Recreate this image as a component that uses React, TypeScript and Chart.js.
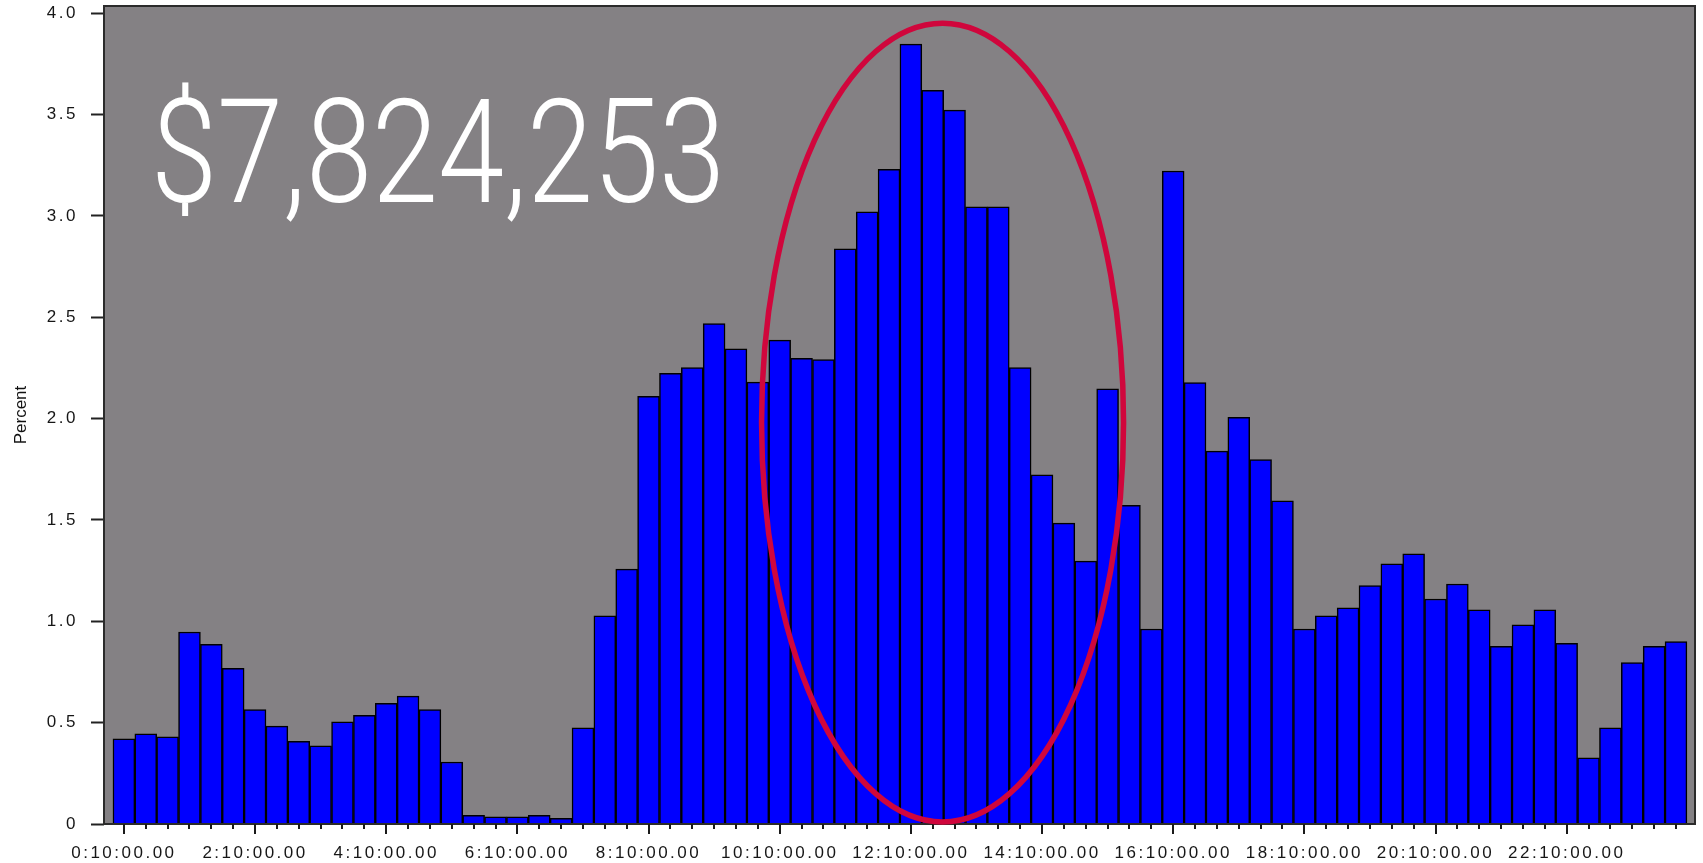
import { useEffect, useRef } from 'react';
import { Chart, registerables } from 'chart.js';

Chart.register(...registerables);

// 20-minute bins (bin centres)
const categories = [
  '0:10:00.00', '0:30:00.00', '0:50:00.00', '1:10:00.00', '1:30:00.00', '1:50:00.00',
  '2:10:00.00', '2:30:00.00', '2:50:00.00', '3:10:00.00', '3:30:00.00', '3:50:00.00',
  '4:10:00.00', '4:30:00.00', '4:50:00.00', '5:10:00.00', '5:30:00.00', '5:50:00.00',
  '6:10:00.00', '6:30:00.00', '6:50:00.00', '7:10:00.00', '7:30:00.00', '7:50:00.00',
  '8:10:00.00', '8:30:00.00', '8:50:00.00', '9:10:00.00', '9:30:00.00', '9:50:00.00',
  '10:10:00.00', '10:30:00.00', '10:50:00.00', '11:10:00.00', '11:30:00.00', '11:50:00.00',
  '12:10:00.00', '12:30:00.00', '12:50:00.00', '13:10:00.00', '13:30:00.00', '13:50:00.00',
  '14:10:00.00', '14:30:00.00', '14:50:00.00', '15:10:00.00', '15:30:00.00', '15:50:00.00',
  '16:10:00.00', '16:30:00.00', '16:50:00.00', '17:10:00.00', '17:30:00.00', '17:50:00.00',
  '18:10:00.00', '18:30:00.00', '18:50:00.00', '19:10:00.00', '19:30:00.00', '19:50:00.00',
  '20:10:00.00', '20:30:00.00', '20:50:00.00', '21:10:00.00', '21:30:00.00', '21:50:00.00',
  '22:10:00.00', '22:30:00.00', '22:50:00.00', '23:10:00.00', '23:30:00.00', '23:50:00.00',
];

const tickLabels = [
  '0:10:00.00', '2:10:00.00', '4:10:00.00', '6:10:00.00', '8:10:00.00', '10:10:00.00',
  '12:10:00.00', '14:10:00.00', '16:10:00.00', '18:10:00.00', '20:10:00.00', '22:10:00.00',
];

const percentValues = [
  0.42, 0.445, 0.43, 0.947, 0.886, 0.768, 0.564, 0.483, 0.408, 0.386, 0.504, 0.536,
  0.595, 0.631, 0.564, 0.306, 0.043, 0.035, 0.035, 0.043, 0.028, 0.475, 1.027, 1.257,
  2.11, 2.223, 2.252, 2.468, 2.344, 2.18, 2.387, 2.297, 2.291, 2.837, 3.02, 3.229,
  3.847, 3.619, 3.521, 3.044, 3.044, 2.252, 1.722, 1.484, 1.297, 2.147, 1.572, 0.962,
  3.221, 2.177, 1.839, 2.006, 1.797, 1.594, 0.962, 1.027, 1.066, 1.176, 1.283, 1.333,
  1.11, 1.184, 1.057, 0.877, 0.983, 1.057, 0.891, 0.327, 0.475, 0.796, 0.877, 0.9,
];

const yTickStep = 0.5;
const yMin = 0;
const yMax = 4.035;
const xMin = -0.91;
const xMax = 71.87;

const headline = '$7,824,253';
const yTitle = 'Percent';

// highlight ellipse, in data units (bin index / percent)
const highlightCenterBin = 37.45;
const highlightCenterValue = 1.98;
const highlightRadiusBins = 8.28;
const highlightRadiusValue = 1.97;

export default function App() {
  const canvasRef = useRef<HTMLCanvasElement | null>(null);

  useEffect(() => {
    const canvas = canvasRef.current;
    if (!canvas) return;

    const decorPlugin = {
      id: 'decor',
      beforeDraw(chart: any) {
        const { ctx, chartArea: a } = chart;
        ctx.letterSpacing = '0px';
        ctx.save();
        ctx.fillStyle = '#848184';
        ctx.fillRect(a.left, a.top, a.right - a.left, a.bottom - a.top);
        ctx.restore();
      },
      afterDatasetsDraw(chart: any) {
        const { ctx, chartArea: a, scales } = chart;
        const xs = scales.x;
        const ys = scales.y;
        ctx.save();
        ctx.letterSpacing = '0px';

        // plot frame
        ctx.strokeStyle = '#2b2b2b';
        ctx.lineWidth = 2;
        ctx.strokeRect(a.left, a.top, a.right - a.left, a.bottom - a.top);

        // x tick marks
        ctx.strokeStyle = '#1a1a1a';
        ctx.lineWidth = 2;
        categories.forEach((c, i) => {
          const px = Math.round(xs.getPixelForValue(i));
          const len = tickLabels.includes(c) ? 10 : 5;
          ctx.beginPath();
          ctx.moveTo(px, a.bottom);
          ctx.lineTo(px, a.bottom + len);
          ctx.stroke();
        });

        // highlight ellipse
        const cx = xs.getPixelForValue(highlightCenterBin);
        const bin = xs.getPixelForValue(1) - xs.getPixelForValue(0);
        const cy = ys.getPixelForValue(highlightCenterValue);
        const unit = ys.getPixelForValue(0) - ys.getPixelForValue(1);
        ctx.beginPath();
        ctx.ellipse(cx, cy, highlightRadiusBins * bin, highlightRadiusValue * unit, 0, 0, Math.PI * 2);
        ctx.strokeStyle = '#d0063c';
        ctx.lineWidth = 5.5;
        ctx.stroke();

        // headline figure
        ctx.font = '300 145px Roboto, "Open Sans", sans-serif';
        ctx.fillStyle = '#ffffff';
        ctx.textBaseline = 'alphabetic';
        ctx.textAlign = 'left';
        const w = ctx.measureText(headline).width;
        ctx.translate(a.left + 47, a.top + 196);
        ctx.scale(574 / w, 1);
        ctx.fillText(headline, 0, 0);
        ctx.restore();

        // wide tracking for the tick labels drawn after this point
        ctx.letterSpacing = '2.5px';
      },
      afterDraw(chart: any) {
        chart.ctx.letterSpacing = '0px';
      },
    };

    const tickFont = { family: '"Liberation Sans", Arial, sans-serif', size: 17 };

    const zeroPad = (s: any) => {
      s.paddingTop = 0;
      s.paddingBottom = 0;
      s.paddingLeft = 0;
      s.paddingRight = 0;
    };

    const chart = new Chart(canvas, {
      type: 'bar',
      data: {
        datasets: [
          {
            label: yTitle,
            data: percentValues.map((v, i) => ({ x: i, y: v })),
            backgroundColor: '#0000ff',
            borderColor: '#000000',
            borderWidth: 1.5,
            barPercentage: 1,
            categoryPercentage: 1,
          },
        ],
      },
      options: {
        animation: false,
        responsive: true,
        maintainAspectRatio: false,
        layout: { padding: { left: 0, top: 6, right: 8, bottom: 0 } },
        plugins: { legend: { display: false }, tooltip: { enabled: false } },
        scales: {
          x: {
            type: 'linear',
            min: xMin,
            max: xMax,
            offset: false,
            afterBuildTicks: (s: any) => {
              s.ticks = categories.map((_, i) => ({ value: i }));
            },
            afterFit: (s: any) => {
              s.height = 39;
              zeroPad(s);
            },
            grid: { display: false, drawTicks: false, drawOnChartArea: false },
            border: { display: false },
            ticks: {
              z: 1,
              autoSkip: false,
              maxRotation: 0,
              minRotation: 0,
              padding: 19,
              color: '#161616',
              font: tickFont,
              callback: (v: any) => {
                const c = categories[v as number];
                return c && tickLabels.includes(c) ? c : '';
              },
            },
          },
          y: {
            min: yMin,
            max: yMax,
            afterFit: (s: any) => {
              s.width = 104;
              zeroPad(s);
            },
            grid: {
              display: true,
              drawOnChartArea: false,
              drawTicks: true,
              tickLength: 13,
              tickColor: '#222222',
              tickWidth: 2,
            },
            border: { display: false },
            ticks: {
              z: 1,
              stepSize: yTickStep,
              includeBounds: false,
              padding: 13,
              color: '#161616',
              font: tickFont,
              callback: (v: any) => (Number(v) === 0 ? '0' : Number(v).toFixed(1)),
            },
            title: {
              display: true,
              text: yTitle,
              color: '#111111',
              font: { family: '"Liberation Sans Narrow", "Liberation Sans", Arial, sans-serif', size: 17 },
              padding: { top: 11, bottom: 0 },
            },
          },
        },
      },
      plugins: [decorPlugin],
    } as any);

    return () => chart.destroy();
  }, []);

  return (
    <div
      style={{
        position: 'fixed',
        left: 0,
        top: 0,
        width: 1703,
        height: 863,
        background: '#ffffff',
      }}
    >
      <canvas ref={canvasRef} />
    </div>
  );
}
